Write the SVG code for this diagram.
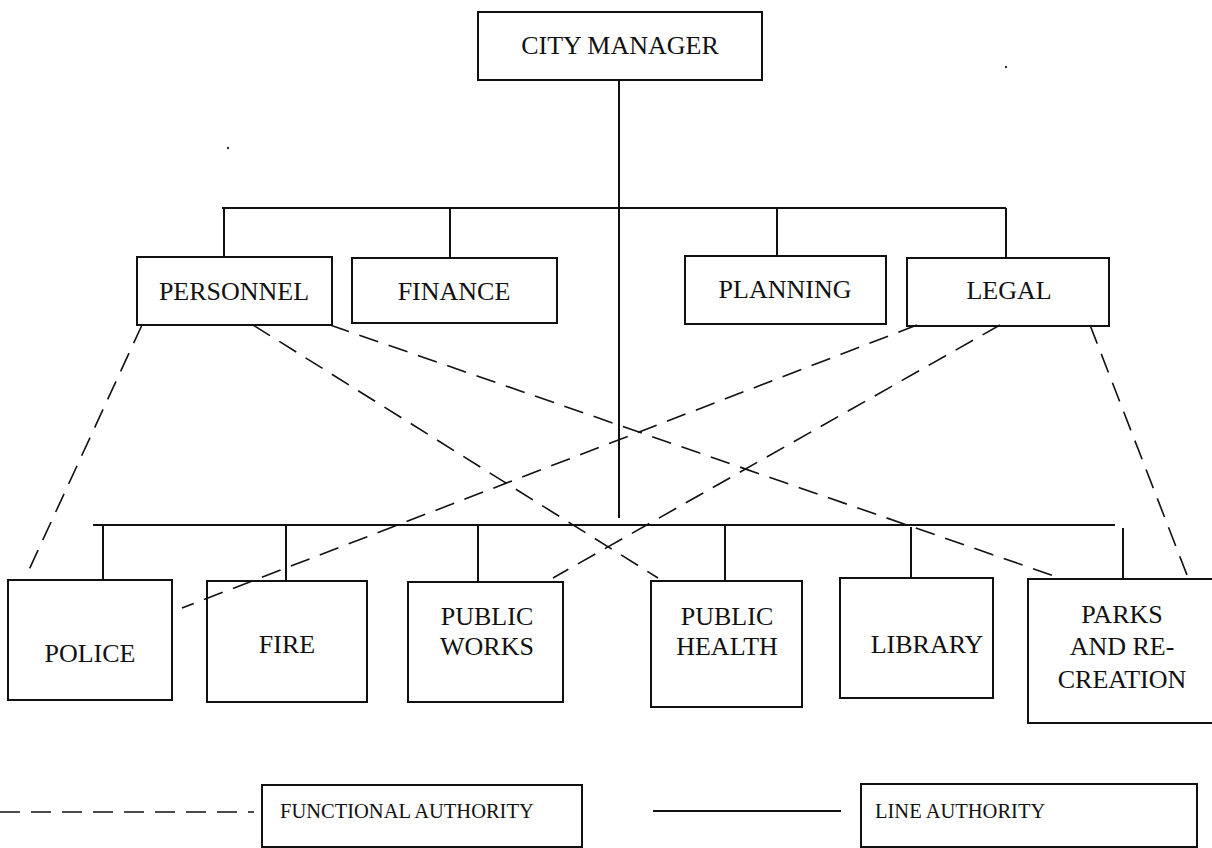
<svg xmlns="http://www.w3.org/2000/svg" width="1212" height="848" viewBox="0 0 1212 848">
  <style>
    .box { fill: none; stroke: #111111; stroke-width: 2; }
    .lbl { font-family: "Liberation Serif", "Times New Roman", serif; font-size: 26px; fill: #111111; text-anchor: middle; }
    .leg { font-family: "Liberation Serif", "Times New Roman", serif; font-size: 20.5px; fill: #111111; }
    .line { stroke: #111111; stroke-width: 2; fill: none; }
    .dash { stroke: #111111; stroke-width: 1.6; fill: none; stroke-dasharray: 20 11; }
  </style>
  <rect width="1212" height="848" fill="#ffffff"/>

  <!-- line authority: solid reporting lines -->
  <g id="connectors">
    <line class="line" x1="619" y1="80" x2="619" y2="518"/>
    <line class="line" x1="222" y1="208" x2="1006" y2="208"/>
    <line class="line" x1="224" y1="208" x2="224" y2="257"/>
    <line class="line" x1="450" y1="208" x2="450" y2="258"/>
    <line class="line" x1="777" y1="208" x2="777" y2="256"/>
    <line class="line" x1="1006" y1="208" x2="1006" y2="258"/>
    <line class="line" x1="93" y1="525" x2="1115" y2="525"/>
    <line class="line" x1="103" y1="525" x2="103" y2="580"/>
    <line class="line" x1="286" y1="525" x2="286" y2="581"/>
    <line class="line" x1="478" y1="525" x2="478" y2="582"/>
    <line class="line" x1="725" y1="525" x2="725" y2="581"/>
    <line class="line" x1="911" y1="527" x2="911" y2="578"/>
    <line class="line" x1="1123" y1="528" x2="1123" y2="579"/>
    <!-- functional authority: dashed staff lines -->
    <line class="dash" x1="142" y1="325" x2="28" y2="572"/>
    <line class="dash" x1="253" y1="325" x2="658" y2="578"/>
    <line class="dash" x1="330" y1="325" x2="1060" y2="578"/>
    <line class="dash" x1="917" y1="325" x2="182" y2="608"/>
    <line class="dash" x1="1000" y1="325" x2="553" y2="578"/>
    <line class="dash" x1="1090" y1="325" x2="1187" y2="575"/>
  </g>

  <g id="city-manager">
    <rect class="box" x="478" y="12" width="284" height="68"/>
    <text class="lbl" x="620" y="54">CITY MANAGER</text>
  </g>
  <g id="personnel">
    <rect class="box" x="137" y="257" width="195" height="68"/>
    <text class="lbl" x="234" y="300">PERSONNEL</text>
  </g>
  <g id="finance">
    <rect class="box" x="352" y="258" width="205" height="65"/>
    <text class="lbl" x="454" y="300">FINANCE</text>
  </g>
  <g id="planning">
    <rect class="box" x="685" y="256" width="201" height="68"/>
    <text class="lbl" x="785" y="298">PLANNING</text>
  </g>
  <g id="legal">
    <rect class="box" x="907" y="258" width="202" height="68"/>
    <text class="lbl" x="1009" y="299">LEGAL</text>
  </g>
  <g id="police">
    <rect class="box" x="8" y="580" width="164" height="120"/>
    <text class="lbl" x="90" y="662">POLICE</text>
  </g>
  <g id="fire">
    <rect class="box" x="207" y="581" width="160" height="121"/>
    <text class="lbl" x="287" y="653">FIRE</text>
  </g>
  <g id="public-works">
    <rect class="box" x="408" y="582" width="155" height="120"/>
    <text class="lbl" x="487" y="625">PUBLIC</text>
    <text class="lbl" x="487" y="655">WORKS</text>
  </g>
  <g id="public-health">
    <rect class="box" x="651" y="581" width="151" height="126"/>
    <text class="lbl" x="727" y="625">PUBLIC</text>
    <text class="lbl" x="727" y="655">HEALTH</text>
  </g>
  <g id="library">
    <rect class="box" x="840" y="578" width="153" height="120"/>
    <text class="lbl" x="927" y="653">LIBRARY</text>
  </g>
  <g id="parks">
    <rect class="box" x="1028" y="579" width="190" height="144"/>
    <text class="lbl" x="1122" y="623">PARKS</text>
    <text class="lbl" x="1122" y="655">AND RE-</text>
    <text class="lbl" x="1122" y="688">CREATION</text>
  </g>

  <!-- key -->
  <g id="legend-functional">
    <line class="dash" x1="0" y1="812" x2="254" y2="812" stroke-dasharray="20 12"/>
    <rect class="box" x="262" y="785" width="320" height="62"/>
    <text class="leg" x="280" y="818">FUNCTIONAL AUTHORITY</text>
  </g>
  <g id="legend-line">
    <line class="line" x1="653" y1="811" x2="841" y2="811"/>
    <rect class="box" x="861" y="784" width="336" height="63"/>
    <text class="leg" x="875" y="818">LINE AUTHORITY</text>
  </g>

  <!-- stray specks -->
  <circle cx="1006" cy="67" r="1.2" fill="#333333"/>
  <circle cx="228" cy="148" r="1.2" fill="#333333"/>
</svg>
